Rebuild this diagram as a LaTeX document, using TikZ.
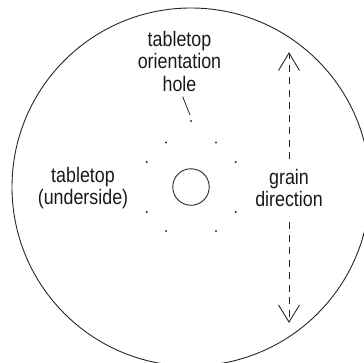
\documentclass[tikz,border=0pt]{standalone}
\usepackage{fontspec}
\setmainfont[FakeStretch=0.85]{Liberation Sans}
\tikzset{
  outline/.style={draw=black!85,line width=0.9pt},
  label/.style={align=center,inner sep=0pt,text=black!90,font=\fontsize{21}{22.5}\selectfont},
  holedot/.style={circle,fill=black!80,inner sep=0pt,minimum size=2.4pt},
  leader/.style={draw=black!85,line width=0.8pt},
  grain/.style={draw=black!85,line width=0.9pt,dash pattern=on 7pt off 5.5pt},
  headline/.style={draw=black!85,line width=0.9pt,line join=miter}
}
\begin{document}
\begin{tikzpicture}[x=1pt,y=-1pt]
\useasboundingbox (0,0) rectangle (364,362);
\clip (0,0) rectangle (364,362);
\node[outline,circle,minimum size=358pt,inner sep=0pt] (top) at (191,187) {};
\node[outline,circle,minimum size=36.5pt,inner sep=0pt] (centre) at (191,187) {};
\foreach \n/\x/\y in {a/191/121,b/166/142.5,c/216/142.5,d/146.7/162,e/235.7/162,f/146.7/212,g/235.7/212,h/166/231,i/216/231}
  \node[holedot] (\n) at (\x,\y) {};
\node[label] (orient) at (179.5,61) {tabletop\\orientation\\hole};
\node[label] (under) at (83,188) {tabletop\\(underside)};
\node[label] (dir) at (289,188) {grain\\direction};
\coordinate (l1) at (182.7,96.7);
\coordinate (l2) at (190,115);
\draw[leader] (l1) -- (l2);
\coordinate (t1) at (289,159);
\coordinate (t2) at (289,53);
\coordinate (tl) at (278.5,70.5);
\coordinate (tr) at (299.5,70.5);
\coordinate (b1) at (289,222);
\coordinate (b2) at (289,322);
\coordinate (bl) at (278.5,305);
\coordinate (br) at (299.5,305);
\draw[grain] (t1) -- (t2);
\draw[headline] (tl) -- (t2) -- (tr);
\draw[grain] (b1) -- (b2);
\draw[headline] (bl) -- (b2) -- (br);
\end{tikzpicture}
\end{document}
